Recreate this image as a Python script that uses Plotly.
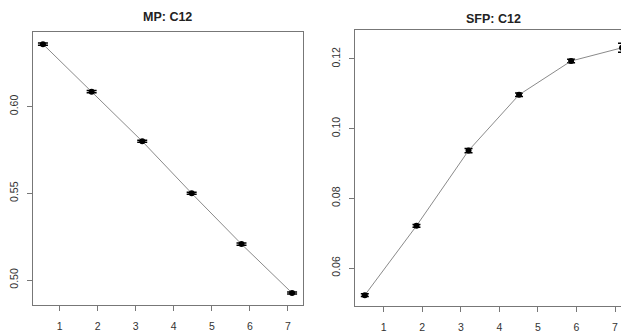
import plotly.graph_objects as go

# Data
mp_x = [0.56, 1.84, 3.17, 4.47, 5.78, 7.11]
mp_y = [0.636, 0.6086, 0.580, 0.550, 0.5207, 0.4925]
mp_err = [0.0006, 0.0006, 0.0006, 0.0006, 0.0006, 0.0006]

sfp_x = [0.51, 1.85, 3.20, 4.51, 5.86, 7.18]
sfp_y = [0.0522, 0.0721, 0.0937, 0.1097, 0.1194, 0.1232]
sfp_err = [0.0004, 0.0004, 0.0006, 0.0005, 0.0005, 0.0013]

x_ticks = [1, 2, 3, 4, 5, 6, 7]
mp_yticks = [0.50, 0.55, 0.60]
mp_yticklabels = ["0.50", "0.55", "0.60"]
sfp_yticks = [0.06, 0.08, 0.10, 0.12]
sfp_yticklabels = ["0.06", "0.08", "0.10", "0.12"]

OFF = 8  # default page body margin
W, H = 633 - OFF, 333 - OFF


def px_x(p):
    return (p - OFF) / W


def px_y(p):
    return (H - (p - OFF)) / H


fig = go.Figure()

line_style = dict(color="#8a8a8a", width=1)
marker_style = dict(color="black", size=6, symbol="circle")

fig.add_trace(go.Scatter(
    x=mp_x, y=mp_y, mode="lines+markers", line=line_style, marker=marker_style,
    error_y=dict(type="data", array=mp_err, visible=True, color="black", thickness=1.5, width=5),
    xaxis="x", yaxis="y", showlegend=False))
fig.add_trace(go.Scatter(
    x=sfp_x, y=sfp_y, mode="lines+markers", line=line_style, marker=marker_style,
    error_y=dict(type="data", array=sfp_err, visible=True, color="black", thickness=1.5, width=4),
    xaxis="x2", yaxis="y2", showlegend=False))

axis_common = dict(showline=True, linecolor="#777", linewidth=1, mirror=True,
                   showgrid=False, zeroline=False, ticks="outside", ticklen=5,
                   tickcolor="#777", tickfont=dict(family="Liberation Sans", size=10.5, color="#333"))

fig.update_layout(
    width=W, height=H, margin=dict(l=0, r=0, t=0, b=0),
    paper_bgcolor="white", plot_bgcolor="white",
    xaxis=dict(domain=[px_x(30), px_x(302)], range=[0.295, 7.40], tickvals=x_ticks,
               anchor="y", ticklabelstandoff=6, **axis_common),
    yaxis=dict(domain=[px_y(305), px_y(32)], range=[0.4856, 0.643], tickvals=mp_yticks,
               ticktext=mp_yticklabels, tickangle=-90, anchor="x", ticklabelstandoff=5,
               **axis_common),
    xaxis2=dict(domain=[px_x(354), 1.0], range=[0.25, 7.44], tickvals=x_ticks,
                anchor="y2", ticklabelstandoff=6, **axis_common),
    yaxis2=dict(domain=[px_y(306), px_y(30)], range=[0.0491, 0.1283], tickvals=sfp_yticks,
                ticktext=sfp_yticklabels, tickangle=-90, anchor="x2", ticklabelstandoff=5,
                **axis_common),
    annotations=[
        dict(text="<b>MP: C12</b>", x=px_x(166), y=px_y(17), xref="paper", yref="paper",
             xanchor="center", yanchor="middle", showarrow=False,
             font=dict(family="Liberation Sans", size=12.5, color="#222")),
        dict(text="<b>SFP: C12</b>", x=px_x(494), y=px_y(19), xref="paper", yref="paper",
             xanchor="center", yanchor="middle", showarrow=False,
             font=dict(family="Liberation Sans", size=12.5, color="#222")),
    ],
)

fig.write_html("out.html")
